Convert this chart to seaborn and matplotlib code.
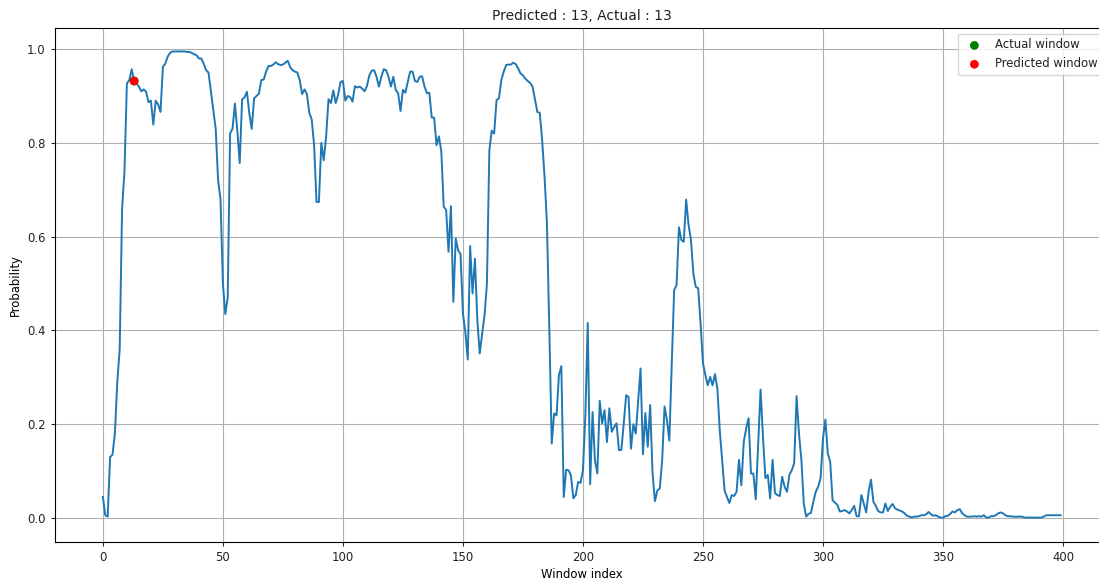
import matplotlib
matplotlib.use("Agg")
import matplotlib.pyplot as plt
import seaborn as sns
import numpy as np

# ---- data ----
probability = [
    0.045, 0.006, 0.003, 0.13, 0.135, 0.18, 0.29, 0.36, 0.66, 0.74,
    0.927, 0.934, 0.957, 0.932, 0.927, 0.92, 0.91, 0.914, 0.909, 0.887,
    0.89, 0.839, 0.89, 0.882, 0.866, 0.962, 0.969, 0.984, 0.992, 0.995,
    0.995, 0.995, 0.995, 0.995, 0.995, 0.994, 0.994, 0.992, 0.989, 0.987,
    0.98, 0.98, 0.969, 0.955, 0.95, 0.91, 0.87, 0.83, 0.72, 0.68,
    0.5, 0.435, 0.47, 0.82, 0.83, 0.884, 0.827, 0.757, 0.893, 0.897,
    0.909, 0.863, 0.83, 0.895, 0.9, 0.905, 0.934, 0.935, 0.952, 0.964,
    0.964, 0.967, 0.972, 0.968, 0.966, 0.967, 0.971, 0.975, 0.962, 0.955,
    0.952, 0.95, 0.934, 0.904, 0.914, 0.904, 0.864, 0.85, 0.795, 0.674,
    0.674, 0.8, 0.763, 0.813, 0.893, 0.885, 0.912, 0.885, 0.902, 0.93,
    0.932, 0.89, 0.9, 0.898, 0.888, 0.921, 0.918, 0.92, 0.916, 0.91,
    0.921, 0.944, 0.954, 0.955, 0.941, 0.92, 0.941, 0.957, 0.955, 0.941,
    0.92, 0.941, 0.913, 0.906, 0.868, 0.913, 0.907, 0.93, 0.952, 0.952,
    0.932, 0.93, 0.941, 0.942, 0.92, 0.906, 0.907, 0.854, 0.854, 0.795,
    0.814, 0.781, 0.664, 0.657, 0.568, 0.665, 0.461, 0.596, 0.571, 0.563,
    0.436, 0.397, 0.338, 0.58, 0.479, 0.553, 0.422, 0.351, 0.393, 0.432,
    0.5, 0.784, 0.826, 0.82, 0.891, 0.895, 0.934, 0.952, 0.966, 0.967,
    0.967, 0.971, 0.968, 0.959, 0.948, 0.944, 0.937, 0.932, 0.928, 0.92,
    0.893, 0.866, 0.864, 0.806, 0.728, 0.628, 0.4, 0.159, 0.223, 0.219,
    0.305, 0.324, 0.045, 0.103, 0.102, 0.091, 0.042, 0.049, 0.077, 0.075,
    0.102, 0.22, 0.416, 0.072, 0.226, 0.123, 0.095, 0.25, 0.202, 0.23,
    0.162, 0.234, 0.184, 0.194, 0.202, 0.145, 0.145, 0.202, 0.262, 0.258,
    0.148, 0.2, 0.18, 0.251, 0.319, 0.136, 0.224, 0.152, 0.241, 0.095,
    0.036, 0.059, 0.063, 0.123, 0.238, 0.209, 0.165, 0.33, 0.486, 0.497,
    0.62, 0.593, 0.589, 0.679, 0.625, 0.593, 0.521, 0.493, 0.49, 0.415,
    0.33, 0.305, 0.283, 0.301, 0.283, 0.307, 0.276, 0.187, 0.123, 0.059,
    0.045, 0.032, 0.049, 0.047, 0.056, 0.124, 0.07, 0.163, 0.191, 0.213,
    0.095, 0.095, 0.04, 0.159, 0.274, 0.173, 0.085, 0.092, 0.042, 0.124,
    0.053, 0.049, 0.047, 0.088, 0.067, 0.056, 0.092, 0.102, 0.117, 0.26,
    0.18, 0.124, 0.031, 0.003, 0.009, 0.011, 0.035, 0.056, 0.067, 0.085,
    0.17, 0.21, 0.138, 0.12, 0.038, 0.033, 0.028, 0.014, 0.015, 0.017,
    0.014, 0.01, 0.017, 0.026, 0.004, 0.004, 0.049, 0.031, 0.012, 0.056,
    0.082, 0.035, 0.026, 0.015, 0.012, 0.012, 0.031, 0.015, 0.024, 0.03,
    0.021, 0.018, 0.016, 0.014, 0.01, 0.005, 0.003, 0.001, 0.003, 0.003,
    0.004, 0.006, 0.006, 0.008, 0.013, 0.008, 0.005, 0.006, 0.003, 0.001,
    0.001, 0.004, 0.005, 0.009, 0.014, 0.012, 0.017, 0.019, 0.01, 0.006,
    0.003, 0.003, 0.003, 0.004, 0.003, 0.004, 0.003, 0.006, 0.001, 0.001,
    0.004, 0.004, 0.006, 0.01, 0.012, 0.01, 0.006, 0.004, 0.004, 0.003,
    0.003, 0.003, 0.003, 0.003, 0.001, 0.001, 0.001, 0.001, 0.001, 0.001,
    0.001, 0.001, 0.003, 0.006, 0.006, 0.006, 0.006, 0.006, 0.006, 0.006,
]
window_index = list(range(len(probability)))
actual_window = 13
predicted_window = 13
title_text = f"Predicted : {predicted_window}, Actual : {actual_window}"
x_label = "Window index"
y_label = "Probability"
legend_labels = ["Actual window", "Predicted window"]
x_ticks = [0, 50, 100, 150, 200, 250, 300, 350, 400]
y_ticks = [0.0, 0.2, 0.4, 0.6, 0.8, 1.0]

# ---- figure ----
plt.rcParams["font.family"] = ["DejaVu Sans"]
plt.rcParams["font.size"] = 8.4
plt.rcParams["text.color"] = "#222222"
plt.rcParams["xtick.color"] = "#222222"
plt.rcParams["ytick.color"] = "#222222"
plt.rcParams["xtick.major.size"] = 3.2
plt.rcParams["ytick.major.size"] = 3.2

fig = plt.figure(figsize=(10.99, 5.79), dpi=100)
ax = fig.add_axes([55 / 1099, 37.5 / 579, 1053.5 / 1099, 513.5 / 579])

sns.lineplot(x=window_index, y=probability, ax=ax, color="#1f77b4", linewidth=1.4)
sns.scatterplot(x=[actual_window], y=[probability[actual_window]], ax=ax,
                color="green", s=40, edgecolor="none", label=legend_labels[0], zorder=3)
sns.scatterplot(x=[predicted_window], y=[probability[predicted_window]], ax=ax,
                color="red", s=40, edgecolor="none", label=legend_labels[1], zorder=4)

ax.set_xticks(x_ticks)
ax.set_yticks(y_ticks)
ax.set_xlim(-19.95, 418.95)
ax.set_ylim(-0.05, 1.045)
ax.grid(True, color="#b0b0b0", linewidth=0.8)
ax.set_axisbelow(True)
ax.set_title(title_text, fontsize=10)
ax.set_xlabel(x_label, labelpad=3)
ax.set_ylabel(y_label)
ax.legend(loc="upper right")

fig.savefig("out.png", dpi=100)
